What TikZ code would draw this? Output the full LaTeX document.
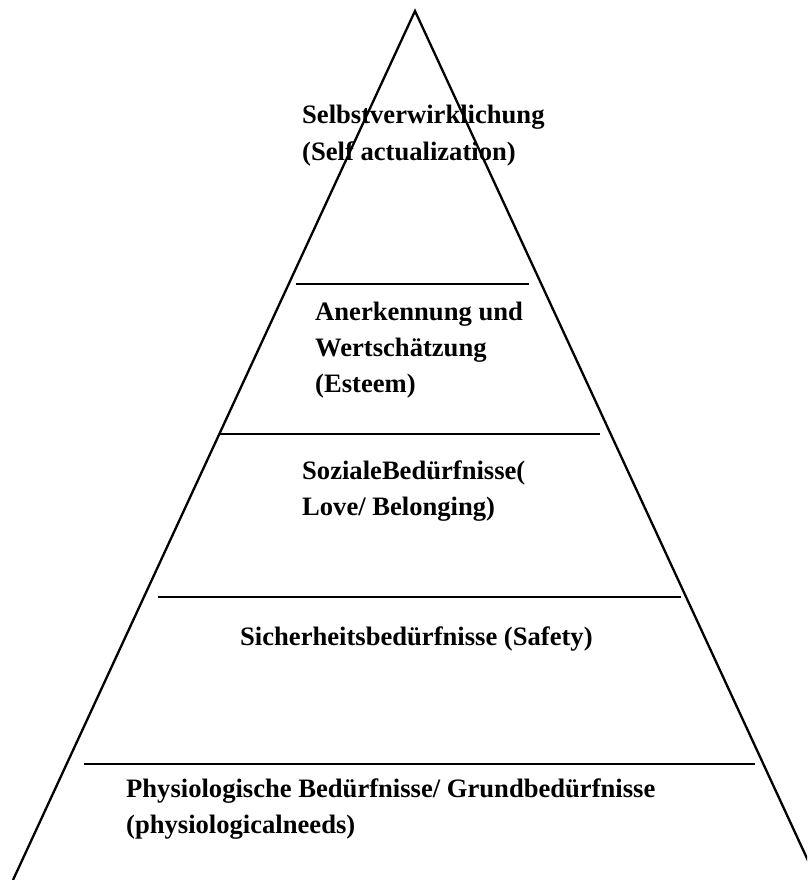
\documentclass[tikz,border=0pt]{standalone}
\usepackage{fontspec}
\setmainfont{Liberation Serif}
\begin{document}
\begin{tikzpicture}[x=1pt,y=-1pt,
  edge/.style={line width=2.3pt},
  divider/.style={line width=2.6pt},
  % anchored at the baseline of the last text line
  label/.style={anchor=base west,align=left,inner sep=0pt,
    font=\fontsize{26.6}{36}\selectfont\bfseries}]
\useasboundingbox (0,0) rectangle (807,880);
\clip (0,0) rectangle (807,880);
% pyramid outline
\coordinate (apex) at (415,11);
\coordinate (bl) at (13,880);
\coordinate (br) at (817,880);
\draw[edge,line join=miter] (bl) -- (apex) -- (br);
% level dividers
\coordinate (d1l) at (296,284); \coordinate (d1r) at (529,284);
\coordinate (d2l) at (220,434); \coordinate (d2r) at (600,434);
\coordinate (d3l) at (158,597); \coordinate (d3r) at (681,597);
\coordinate (d4l) at (84,764);  \coordinate (d4r) at (755,764);
\draw[divider] (d1l) -- (d1r);
\draw[divider] (d2l) -- (d2r);
\draw[divider] (d3l) -- (d3r);
\draw[divider] (d4l) -- (d4r);
% level texts
\node[label] (self) at (302,160) {Selbstverwirklichung\\(Self actualization)};
\node[label] (esteem) at (315,392) {Anerkennung und\\Wertschätzung\\(Esteem)};
\node[label] (love) at (302,515) {SozialeBedürfnisse(\\Love/ Belonging)};
\node[label] (safety) at (240,645) {Sicherheitsbedürfnisse (Safety)};
\node[label] (phys) at (126,833) {Physiologische Bedürfnisse/ Grundbedürfnisse\\(physiologicalneeds)};
\end{tikzpicture}
\end{document}
